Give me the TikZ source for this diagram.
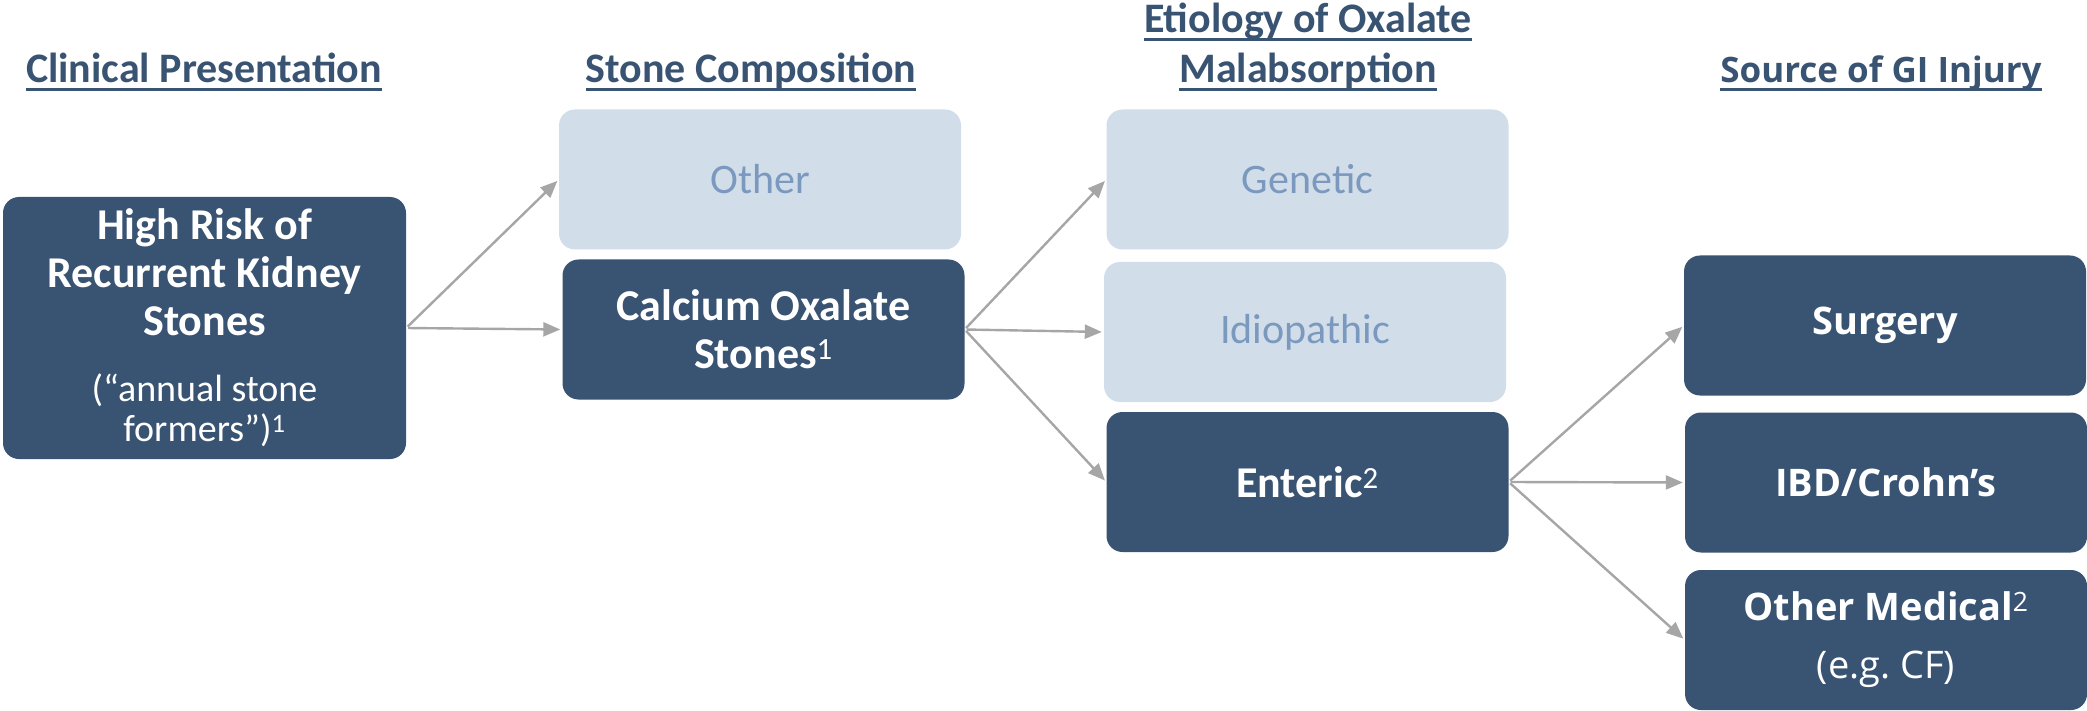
\documentclass[tikz,border=0pt]{standalone}
\usepackage{fontspec}
\setmainfont{Carlito}
\newfontfamily\segfont{Open Sans}
\usetikzlibrary{arrows.meta}
\definecolor{boxblue}{HTML}{395372}
\definecolor{paleblue}{HTML}{D1DDE8}
\definecolor{paletext}{HTML}{7B99BF}
\definecolor{linkgray}{HTML}{A6A6A6}
\newcommand{\bigbf}{\fontsize{44}{48}\selectfont\bfseries}
\newcommand{\smallrm}{\fontsize{38}{40}\selectfont\mdseries}
\newcommand{\headul}[1]{\setbox0\hbox{#1}\rlap{\rule[-8pt]{\wd0}{2.6pt}}\box0}

\begin{document}
\begin{tikzpicture}[x=1pt,y=-1pt,
    darkbox/.style={fill=boxblue,text=white,rounded corners=16pt,minimum width=402pt,minimum height=140pt,align=center,inner sep=0pt,font=\fontsize{44}{48}\selectfont},
    lightbox/.style={darkbox,fill=paleblue,text=paletext,font=\fontsize{42}{48}\selectfont},
    segbox/.style={darkbox,font=\segfont\fontsize{38}{46}\selectfont},
    head/.style={text=boxblue,align=center,anchor=base,font=\fontsize{42}{50}\selectfont\bfseries},
    link/.style={draw=linkgray,line width=2.4pt,-{Triangle[length=17pt,width=14pt]},shorten >=2pt,shorten <=2pt}]
		\useasboundingbox (0,0) rectangle (2087,711);

		% column headings
		\node[head] (h1) at (204,83) {\headul{Clinical Presentation}};
		\node[head] (h2) at (751,83) {\headul{Stone Composition}};
		\node[head] (h3) at (1308,83) {\headul{Etiology of Oxalate}\\\headul{Malabsorption}};
		\node[head,font=\segfont\fontsize{35}{42}\selectfont\bfseries] (h4) at (1881,83) {\headul{Source of GI Injury}};

		% boxes
		\node[darkbox,minimum width=403pt,minimum height=262pt] (risk) at (204.5,328)
			{\bigbf High Risk of\\\bigbf Recurrent Kidney\\\bigbf Stones\\[18pt]
			 \smallrm (“annual stone\\[-8pt]\smallrm formers”)\textsuperscript{1}};
		\node[lightbox] (other) at (760,179.5) {Other};
		\node[darkbox] (calcium) at (763.5,329.5)
			{\bfseries Calcium Oxalate\\\bfseries Stones\textsuperscript{\mdseries 1}};
		\node[lightbox] (genetic) at (1307.5,179.5) {Genetic};
		\node[lightbox] (idio) at (1305,332) {Idiopathic};
		\node[darkbox] (enteric) at (1307.5,482) {\bfseries Enteric\textsuperscript{\mdseries 2}};
		\node[segbox] (surgery) at (1885,325.5) {\bfseries Surgery};
		\node[segbox] (ibd) at (1886,482.5) {\bfseries IBD/Crohn’s};
		\node[segbox] (othermed) at (1886,640)
			{\bfseries Other Medical\textsuperscript{\mdseries 2}\\[12pt]\fontsize{38}{40}\selectfont (e.g.\ CF)};

		% links
		\draw[link] (risk.east) -- (other.west);
		\draw[link] (risk.east) -- (calcium.west);
		\foreach \t in {genetic,idio,enteric}
			\draw[link] (calcium.east) -- (\t.west);
		\foreach \t in {surgery,ibd,othermed}
			\draw[link] (enteric.east) -- (\t.west);
	\end{tikzpicture}
\end{document}
